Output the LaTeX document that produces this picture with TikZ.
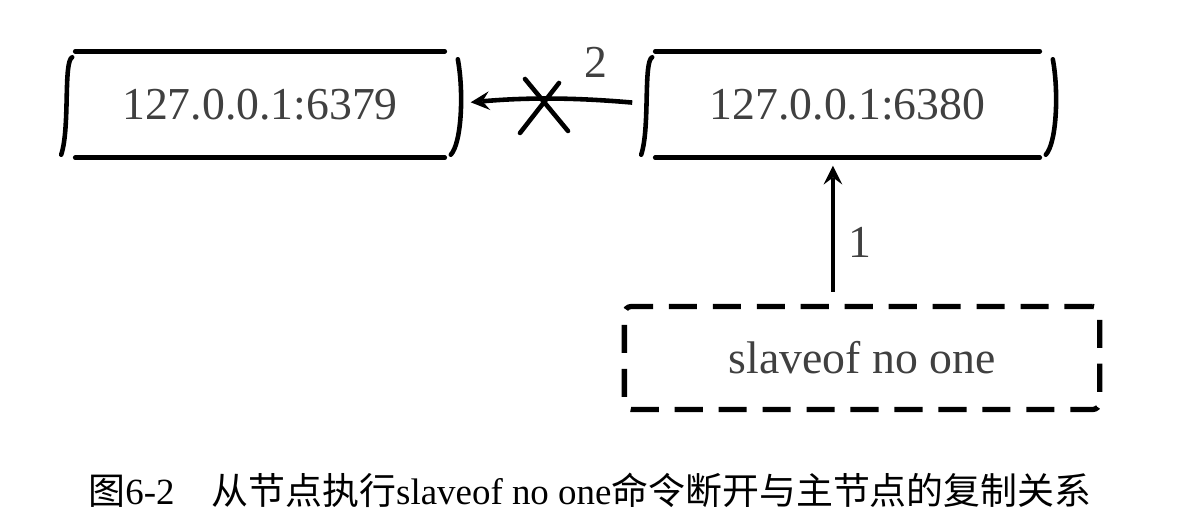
\documentclass[tikz,border=0pt]{standalone}
\usepackage{fontspec}
\setmainfont{Liberation Serif}
\newfontfamily\cjk{Noto Sans CJK SC}
\usetikzlibrary{calc}

\tikzset{
  hostbox/.style={minimum height=1.05cm, inner sep=0pt, text=black!75,
    font=\fontsize{13}{15}\selectfont},
  cmdbox/.style={draw, line width=1.5pt, dash pattern=on 8pt off 4.5pt,
    rounded corners=2pt, minimum width=4.75cm, minimum height=1.03cm,
    inner sep=0pt, text=black!75, font=\fontsize{13}{15}\selectfont},
  stroke/.style={line width=1.3pt, line cap=round},
  link/.style={->, line width=1.3pt},
  num/.style={text=black!75, font=\fontsize{13}{15}\selectfont},
}

% sketched box: two lines and two brackets
\newcommand{\skbox}[1]{%
  \draw[stroke] ([xshift=0.01cm]#1.north west) -- ([xshift=-0.01cm]#1.north east);
  \draw[stroke] ([xshift=0.01cm]#1.south west) -- ([xshift=-0.01cm]#1.south east);
  \draw[stroke] ([shift={(-2,6)}]#1.north west) .. controls ([shift={(-11,10)}]#1.north west)
    and ([shift={(-4,-30)}]#1.south west) .. ([shift={(-13,-3)}]#1.south west);
  \draw[stroke] ([shift={(12,8)}]#1.north east) .. controls ([shift={(18,40)}]#1.north east)
    and ([shift={(16,-15)}]#1.south east) .. ([shift={(5,-3)}]#1.south east);
}

\begin{document}
\begin{tikzpicture}[>=stealth, x=0.01cm, y=-0.01cm]
  \useasboundingbox (0,0) rectangle (1187,522);

  % hai node
  \node[hostbox, minimum width=3.7cm] (m6379) at (260,104.5) {127.0.0.1:6379};
  \node[hostbox, minimum width=3.85cm] (m6380) at (847.5,104.5) {127.0.0.1:6380};
  \skbox{m6379}
  \skbox{m6380}

  % lenh
  \node[cmdbox] (cmd) at (862,358) {slaveof no one};

  % buoc 1
  \draw[link, shorten <=0.12cm, shorten >=0.08cm] ([xshift=-0.29cm]cmd.north)
    -- ([xshift=-0.29cm]cmd.north |- m6380.south) node[num, pos=0.42, right=0.02cm] (one) {1};

  % buoc 2, bi cat
  \draw[link, shorten <=0.22cm, shorten >=0.25cm] (m6380.west) to[bend right=5] (m6379.east);
  \coordinate (cut) at (542,106);
  \draw[stroke] ([shift={(-17,-27)}]cut) -- ([shift={(26,25)}]cut);
  \draw[stroke] ([shift={(-22,27)}]cut) -- ([shift={(17,-23)}]cut);
  \node[num] (two) at (596,62) {2};

  % chu thich
  \node[font=\fontsize{10.5}{12}\selectfont] (caption) at (590,490)
    {{\cjk 图}6-2\hspace{1em}{\cjk 从节点执行}slaveof no one{\cjk 命令断开与主节点的复制关系}};
\end{tikzpicture}
\end{document}
